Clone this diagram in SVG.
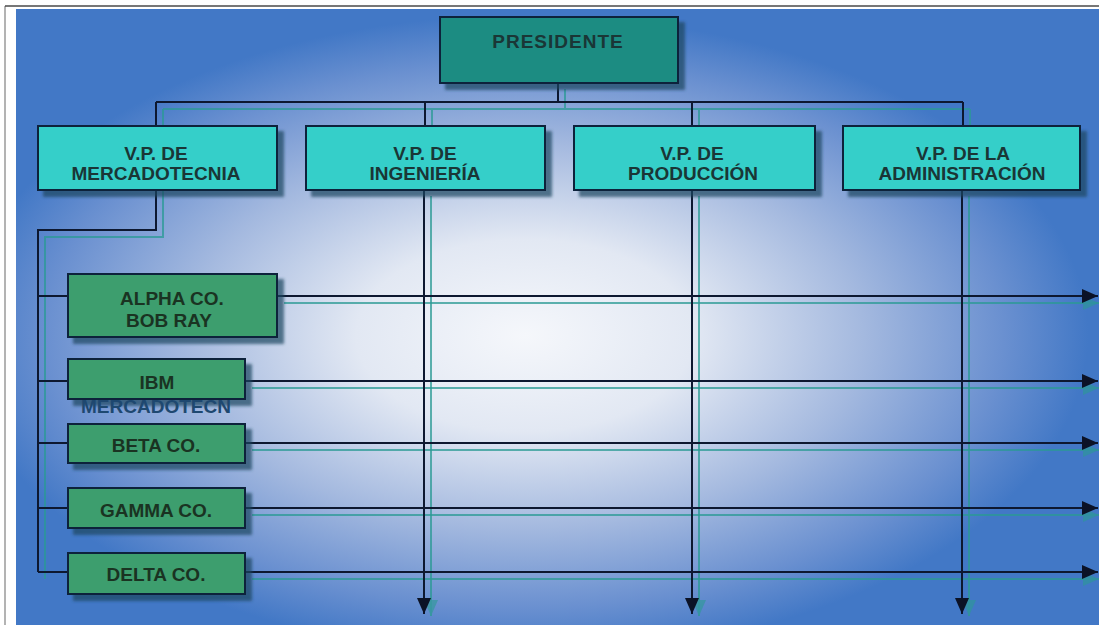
<svg xmlns="http://www.w3.org/2000/svg" width="1099" height="625" viewBox="0 0 1099 625">
  <defs>
    <radialGradient id="bg" cx="0.47" cy="0.53" r="0.52">
      <stop offset="0" stop-color="#f5f7fb"/>
      <stop offset="0.3" stop-color="#e2e8f3"/>
      <stop offset="0.6" stop-color="#a4b9df"/>
      <stop offset="0.85" stop-color="#6a90d0"/>
      <stop offset="1" stop-color="#4278c6"/>
    </radialGradient>
    <filter id="shadow" x="-10%" y="-20%" width="130%" height="150%">
      <feGaussianBlur in="SourceAlpha" stdDeviation="1.5"/>
      <feOffset dx="6" dy="6" result="o"/>
      <feFlood flood-color="#1d4660" flood-opacity="0.7"/>
      <feComposite in2="o" operator="in"/>
      <feMerge>
        <feMergeNode/>
        <feMergeNode in="SourceGraphic"/>
      </feMerge>
    </filter>
    <marker id="arr" viewBox="0 0 16 14" refX="16" refY="7" markerWidth="16" markerHeight="14" markerUnits="userSpaceOnUse" orient="auto">
      <path d="M0,0 L16,7 L0,14 Z" fill="#0b1226"/>
    </marker>
    <marker id="arrS" viewBox="0 0 16 14" refX="16" refY="7" markerWidth="16" markerHeight="14" markerUnits="userSpaceOnUse" orient="auto">
      <path d="M0,0 L16,7 L0,14 Z" fill="#2a9a94" opacity="0.8"/>
    </marker>
    <style>
      .box { stroke: #10243a; stroke-width: 2; filter: url(#shadow); }
      .pres { fill: #1a8c82; }
      .vp { fill: #36cfc9; }
      .sub { fill: #3c9e6e; }
      .t { font-family: "Liberation Sans", Arial, sans-serif; font-size: 19px; font-weight: bold; fill: #1a3636; text-anchor: middle; }
      .ts { fill: #1a3322; }
      .over { fill: #1e4870; }
      .ln { stroke: #0d1830; stroke-width: 2; fill: none; }
      .sh { stroke: #2a9a94; stroke-width: 2; fill: none; opacity: 0.75; }
    </style>
  </defs>

  <!-- frame and background -->
  <rect x="0" y="0" width="1099" height="625" fill="#ffffff"/>
  <line x1="5" y1="6" x2="5" y2="625" stroke="#9a9a9a" stroke-width="1.5"/>
  <line x1="5" y1="6" x2="1099" y2="6" stroke="#4a4a4a" stroke-width="1.5"/>
  <rect x="16" y="9" width="1083" height="616" fill="url(#bg)"/>

  <!-- connectors -->
  <g id="connectors">
    <!-- teal shadow lines -->
    <path class="sh" d="M565,89 V109 M163,109 H970 M163,109 V127 M432,109 V127 M699,109 V127 M970,109 V127"/>
    <path class="sh" d="M163,190 V237 H45 V579"/>
    <path class="sh" d="M431,196 V616" marker-end="url(#arrS)"/>
    <path class="sh" d="M699,196 V616" marker-end="url(#arrS)"/>
    <path class="sh" d="M969,196 V616" marker-end="url(#arrS)"/>
    <path class="sh" d="M284,303 H1099" marker-end="url(#arrS)"/>
    <path class="sh" d="M252,388 H1099" marker-end="url(#arrS)"/>
    <path class="sh" d="M252,450 H1099" marker-end="url(#arrS)"/>
    <path class="sh" d="M252,515 H1099" marker-end="url(#arrS)"/>
    <path class="sh" d="M252,579 H1099" marker-end="url(#arrS)"/>

    <!-- main lines -->
    <path class="ln" d="M558,83 V102 M156,102 H963 M156,102 V126 M425,102 V126 M692,102 V126 M963,102 V126"/>
    <path class="ln" d="M156,190 V230 H38 V572"/>
    <path class="ln" d="M38,296 H68 M38,381 H68 M38,443 H68 M38,508 H68 M38,572 H68"/>
    <path class="ln" d="M424,190 V614" marker-end="url(#arr)"/>
    <path class="ln" d="M692,190 V614" marker-end="url(#arr)"/>
    <path class="ln" d="M962,190 V614" marker-end="url(#arr)"/>
    <path class="ln" d="M277,296 H1098" marker-end="url(#arr)"/>
    <path class="ln" d="M245,381 H1098" marker-end="url(#arr)"/>
    <path class="ln" d="M245,443 H1098" marker-end="url(#arr)"/>
    <path class="ln" d="M245,508 H1098" marker-end="url(#arr)"/>
    <path class="ln" d="M245,572 H1098" marker-end="url(#arr)"/>
  </g>

  <!-- nodes -->
  <g id="presidente">
    <rect class="box pres" x="440" y="17" width="238" height="66"/>
    <text class="t" x="558" y="48" letter-spacing="1">PRESIDENTE</text>
  </g>
  <g id="vp-mercadotecnia">
    <rect class="box vp" x="38" y="126" width="239" height="64"/>
    <text class="t" x="156" y="160">V.P. DE</text>
    <text class="t" x="156" y="180">MERCADOTECNIA</text>
  </g>
  <g id="vp-ingenieria">
    <rect class="box vp" x="306" y="126" width="239" height="64"/>
    <text class="t" x="425" y="160">V.P. DE</text>
    <text class="t" x="425" y="180">INGENIERÍA</text>
  </g>
  <g id="vp-produccion">
    <rect class="box vp" x="574" y="126" width="241" height="64"/>
    <text class="t" x="692" y="160">V.P. DE</text>
    <text class="t" x="693" y="180">PRODUCCIÓN</text>
  </g>
  <g id="vp-administracion">
    <rect class="box vp" x="843" y="126" width="237" height="64"/>
    <text class="t" x="963" y="160">V.P. DE LA</text>
    <text class="t" x="962" y="180">ADMINISTRACIÓN</text>
  </g>

  <g id="alpha">
    <rect class="box sub" x="68" y="274" width="209" height="63"/>
    <text class="t ts" x="172" y="305">ALPHA CO.</text>
    <text class="t ts" x="169" y="327">BOB RAY</text>
  </g>
  <g id="ibm">
    <rect class="box sub" x="68" y="359" width="177" height="40"/>
    <text class="t ts" x="157" y="389">IBM</text>
    <text class="t over" x="156" y="413">MERCADOTECN</text>
  </g>
  <g id="beta">
    <rect class="box sub" x="68" y="424" width="177" height="39"/>
    <text class="t ts" x="156" y="452">BETA CO.</text>
  </g>
  <g id="gamma">
    <rect class="box sub" x="68" y="488" width="177" height="40"/>
    <text class="t ts" x="156" y="517">GAMMA CO.</text>
  </g>
  <g id="delta">
    <rect class="box sub" x="68" y="553" width="177" height="41"/>
    <text class="t ts" x="156" y="581">DELTA CO.</text>
  </g>
</svg>
